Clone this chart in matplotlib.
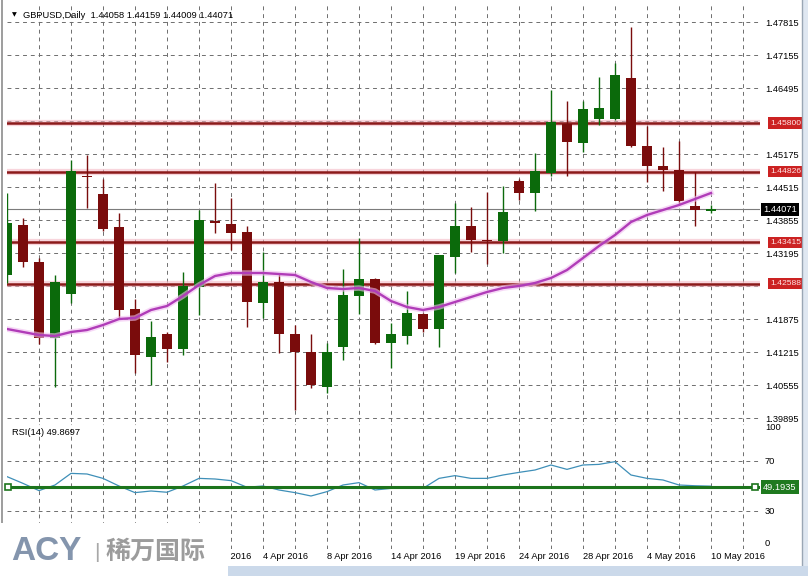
"""GBPUSD daily candles with moving average and RSI(14), MT4 style."""

import matplotlib

matplotlib.use("Agg")
import matplotlib.pyplot as plt
from matplotlib import transforms
from matplotlib.lines import Line2D
from matplotlib.patches import Rectangle

plt.rcParams["font.family"] = ["Liberation Sans", "DejaVu Sans"]

W, H = 808, 576

# OHLC, one entry per daily bar
opens = [1.4276, 1.4376, 1.4302, 1.4150, 1.4238, 1.4474, 1.4438, 1.4372, 1.4208,
         1.4112, 1.4158, 1.4128, 1.4252, 1.4384, 1.4378, 1.4362, 1.4220, 1.4262,
         1.4158, 1.4122, 1.4052, 1.4132, 1.4234, 1.4268, 1.4140, 1.4154, 1.4198,
         1.4168, 1.4312, 1.4374, 1.4346, 1.4344, 1.4464, 1.4440, 1.4480, 1.4578,
         1.4540, 1.4588, 1.4588, 1.4670, 1.4534, 1.4494, 1.4486, 1.4414, 1.44058]
highs = [1.4440, 1.4390, 1.4310, 1.4276, 1.4506, 1.4516, 1.4468, 1.4400, 1.4228,
         1.4184, 1.4162, 1.4282, 1.4406, 1.4460, 1.4430, 1.4374, 1.4322, 1.4280,
         1.4176, 1.4158, 1.4140, 1.4288, 1.4350, 1.4270, 1.4180, 1.4244, 1.4200,
         1.4316, 1.4420, 1.4412, 1.4442, 1.4454, 1.4468, 1.4520, 1.4646, 1.4624,
         1.4624, 1.4672, 1.4700, 1.4772, 1.4574, 1.4532, 1.4544, 1.4482, 1.44159]
lows = [1.4260, 1.4292, 1.4138, 1.4052, 1.4220, 1.4410, 1.4364, 1.4190, 1.4080,
        1.4056, 1.4102, 1.4116, 1.4196, 1.4360, 1.4326, 1.4172, 1.4190, 1.4120,
        1.4006, 1.4050, 1.4040, 1.4106, 1.4198, 1.4138, 1.4090, 1.4138, 1.4162,
        1.4132, 1.4280, 1.4322, 1.4298, 1.4320, 1.4426, 1.4404, 1.4474, 1.4474,
        1.4522, 1.4576, 1.4586, 1.4532, 1.4462, 1.4444, 1.4416, 1.4374, 1.44009]
closes = [1.4380, 1.4302, 1.4150, 1.4262, 1.4484, 1.4472, 1.4368, 1.4206, 1.4116,
          1.4152, 1.4128, 1.4254, 1.4386, 1.4380, 1.4360, 1.4222, 1.4262, 1.4158,
          1.4122, 1.4056, 1.4122, 1.4236, 1.4268, 1.4140, 1.4158, 1.4200, 1.4168,
          1.4316, 1.4374, 1.4346, 1.4344, 1.4402, 1.4440, 1.4484, 1.4582, 1.4542,
          1.4608, 1.4610, 1.4676, 1.4534, 1.4494, 1.4486, 1.4424, 1.4406, 1.44071]

ma_values = [1.4168, 1.4162, 1.4156, 1.4154, 1.4162, 1.4166, 1.4176, 1.4188, 1.4190,
             1.4206, 1.4214, 1.4234, 1.4256, 1.4274, 1.4280, 1.4280, 1.4280, 1.4278,
             1.4276, 1.4262, 1.4250, 1.4248, 1.4250, 1.4244, 1.4224, 1.4212, 1.4206,
             1.4212, 1.4222, 1.4232, 1.4242, 1.4250, 1.4254, 1.4260, 1.4270, 1.4286,
             1.4310, 1.4334, 1.4356, 1.4382, 1.4396, 1.4406, 1.4416, 1.4428, 1.4440]

rsi_values = [57.5, 52.1, 46.3, 50.8, 60.1, 59.6, 56.1, 50.0, 44.7, 46.0, 45.0, 50.0,
              56.1, 55.6, 54.3, 49.0, 50.0, 46.8, 44.7, 42.0, 45.5, 50.8, 52.7, 46.8,
              48.1, 49.5, 48.1, 56.1, 58.3, 56.1, 56.1, 58.8, 60.9, 62.8, 66.8, 63.3,
              66.8, 67.3, 69.5, 58.8, 56.1, 54.8, 50.8, 50.2, 49.87]

level_lines = [1.45800, 1.44826, 1.43415, 1.42588]
price_ticks = [1.47815, 1.47155, 1.46495, 1.45835, 1.45175, 1.44515, 1.43855,
               1.43195, 1.42535, 1.41875, 1.41215, 1.40555, 1.39895]
# labels hidden behind a level box in the reference are left blank
price_tick_labels = ["1.47815", "1.47155", "1.46495", "", "1.45175", "1.44515",
                     "1.43855", "1.43195", "", "1.41875", "1.41215", "1.40555",
                     "1.39895"]
date_ticks = [12, 16, 20, 24, 28, 32, 36, 40, 44]
date_labels = ["30 Mar 2016", "4 Apr 2016", "8 Apr 2016", "14 Apr 2016",
               "19 Apr 2016", "24 Apr 2016", "28 Apr 2016", "4 May 2016",
               "10 May 2016"]
rsi_ticks = [100, 70, 30, 0]
rsi_level = 49.1935
rsi_last = 49.8697
last_price = 1.44071
title_ohlc = ["1.44058", "1.44159", "1.44009", "1.44071"]

GREEN = "#0b6a0b"
RED = "#7a0c0c"
GRID = "#6e6e6e"
FS = 6.7


def px_rect(x0, y0, x1, y1):
    """Figure-fraction rect from a pixel box measured from the top-left."""
    return [x0 / W, 1 - y1 / H, (x1 - x0) / W, (y1 - y0) / H]


fig = plt.figure(figsize=(W / 100, H / 100), dpi=100)
fig.patch.set_facecolor("white")
ax = fig.add_axes(px_rect(7, 3, 760, 422))
ax_rsi = fig.add_axes(px_rect(7, 423.5, 760, 548.5), sharex=ax)

x_right = (760 - 7) / 16
idx = list(range(len(opens)))

for a in (ax, ax_rsi):
    for s in a.spines.values():
        s.set_visible(False)
    a.set_xlim(0, x_right)
    for g in range(2, 48, 2):
        a.axvline(g, color=GRID, lw=0.7, ls=(0, (4, 4)), zorder=1)
    a.yaxis.tick_right()
    a.tick_params(axis="y", length=0, pad=3.6, labelsize=FS)

# ---- price panel
ax.set_ylim(1.3982, 1.4820)
ax.set_yticks(price_ticks)
ax.set_yticklabels(price_tick_labels)
ax.grid(axis="y", color=GRID, lw=0.7, ls=(0, (4, 4)), zorder=1)
ax.tick_params(axis="x", length=0, labelbottom=False)

for lvl in level_lines:
    ax.axhline(lvl, color="#f3b3c0", lw=4.5, alpha=0.55, zorder=2)
    ax.axhline(lvl, color="#8c1a1a", lw=1.8, zorder=2.2)
ax.axhline(last_price, color="#7c7c7c", lw=0.8, zorder=2.1)

for i, (o, h, l, c) in enumerate(zip(opens, highs, lows, closes)):
    col = GREEN if c >= o else RED
    ax.vlines(i, l, h, color=col, lw=1.0, zorder=3)
    body = max(abs(c - o), 0.0003)
    bottom = min(o, c) if abs(c - o) >= 0.0003 else (o + c) / 2 - body / 2
    ax.bar(i, body, bottom=bottom, width=0.68, color=col, lw=0, zorder=4)

ax.plot(idx, ma_values, color="#f0bdf0", lw=4, alpha=0.6, zorder=5)
ax.plot(idx, ma_values, color="#b03cb8", lw=1.7, zorder=5.1)

lbl_tf = transforms.blended_transform_factory(ax.transAxes, ax.transData)
for lvl in level_lines:
    ax.text(1 + 10 / 753, lvl, f"{lvl:.5f}", transform=lbl_tf, ha="left",
            va="center", fontsize=6.1, color="#ffe6e6", clip_on=False, zorder=8,
            bbox=dict(boxstyle="square,pad=0.25", fc="#cc2222", ec="none"))
ax.text(1 + 3 / 753, last_price, f"{last_price:.5f}", transform=lbl_tf,
        ha="left", va="center", fontsize=FS, color="white", clip_on=False,
        zorder=8, bbox=dict(boxstyle="square,pad=0.25", fc="black", ec="none"))

ax.text(5 / 753, 1 - 12 / 419, "\u25bc", transform=ax.transAxes, fontsize=4.5,
        ha="left", va="center", family=["DejaVu Sans"])
ax.text(16 / 753, 1 - 12 / 419, "GBPUSD,Daily  " + " ".join(title_ohlc),
        transform=ax.transAxes, fontsize=FS, ha="left", va="center")

# ---- RSI panel
ax_rsi.set_ylim(0, 100)
ax_rsi.set_yticks(rsi_ticks)
ax_rsi.set_yticklabels([str(t) for t in rsi_ticks])
labs = ax_rsi.get_yticklabels()
labs[0].set_va("top")
labs[-1].set_va("bottom")
for lv in (70, 30, 0):
    ax_rsi.axhline(lv, color=GRID, lw=0.7, ls=(0, (4, 4)), zorder=1)

ax_rsi.plot(idx, rsi_values, color="#3e8fb8", lw=0.9, zorder=3)
ax_rsi.axhline(rsi_level, color="#1c741c", lw=2.2, zorder=4)
ax_rsi.plot([0.05, (755 - 7) / 16], [rsi_level, rsi_level], ls="none", marker="s",
            ms=4, mfc="white", mec="#1c741c", mew=1.2, clip_on=False, zorder=5)
rsi_tf = transforms.blended_transform_factory(ax_rsi.transAxes, ax_rsi.transData)
ax_rsi.text(1 + 3 / 753, rsi_level, f"{rsi_level:.4f}", transform=rsi_tf,
            ha="left", va="center", fontsize=FS, color="white", clip_on=False,
            zorder=8, bbox=dict(boxstyle="square,pad=0.25", fc="#1f7a1f", ec="none"))
ax_rsi.text(5 / 753, 1 - 9 / 125, f"RSI(14) {rsi_last:.4f}",
            transform=ax_rsi.transAxes, fontsize=FS, ha="left", va="center")

ax_rsi.set_xticks(date_ticks)
ax_rsi.set_xticklabels(date_labels, ha="left")
ax_rsi.tick_params(axis="x", length=0, pad=2.2, labelsize=FS)

# ---- window frame and watermark
fig.add_artist(Line2D([1.5 / W, 1.5 / W], [1 - 523 / H, 1], color="#8c8c8c", lw=1.2))
fig.add_artist(Line2D([802 / W, 802 / W], [10 / H, 1], color="#9aa6b4", lw=1.0))
fig.patches.append(Rectangle((803 / W, 0), 5 / W, 1, transform=fig.transFigure,
                             fc="#dfe7f1", ec="none", zorder=-1))
fig.patches.append(Rectangle((228 / W, 0), 1 - 228 / W, 10 / H,
                             transform=fig.transFigure, fc="#cbd9ea", ec="none",
                             zorder=9))
fig.patches.append(Rectangle((0, 0), 228 / W, 53 / H, transform=fig.transFigure,
                             fc="white", ec="none", zorder=10))
fig.text(11 / W, 1 - 552 / H, "ACY", fontsize=24, fontweight="bold",
         color="#8495ad", ha="left", va="center", zorder=11)
fig.text(97 / W, 1 - 552 / H, "|", fontsize=15, color="#a8a8a8",
         ha="center", va="center", zorder=11)
fig.text(106 / W, 1 - 552 / H, "稀万国际", fontsize=18, fontweight="bold",
         color="#9c9c9c", ha="left", va="center", zorder=11,
         family=["Noto Sans CJK SC", "DejaVu Sans"])

fig.savefig("out.png", dpi=100)
